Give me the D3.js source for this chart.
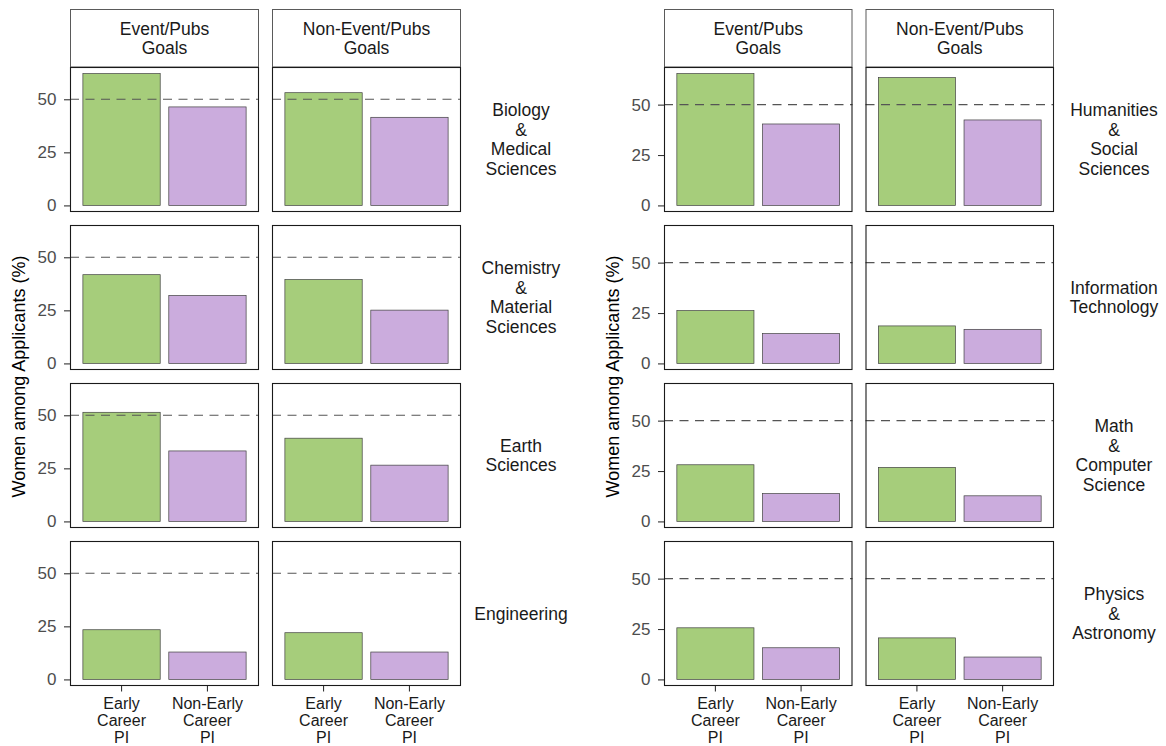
<!DOCTYPE html>
<html>
<head>
<meta charset="utf-8">
<script src="https://cdn.jsdelivr.net/npm/d3@7"></script>
<style>
  html, body { margin: 0; padding: 0; background: #fff; }
  svg { display: block; font-family: "Liberation Sans", Arial, Helvetica, sans-serif; }
</style>
</head>
<body>
<svg id="chart" width="1166" height="746"></svg>
<script>
// Share of women among applicants (%), by research field, goal type and PI career stage
const goals = [["Event/Pubs", "Goals"], ["Non-Event/Pubs", "Goals"]];
const careers = ["Early Career PI", "Non-Early Career PI"];
const careerLines = [["Early", "Career", "PI"], ["Non-Early", "Career", "PI"]];
const fieldLabels = [
  ["Biology", "&", "Medical", "Sciences"],
  ["Chemistry", "&", "Material", "Sciences"],
  ["Earth", "Sciences"],
  ["Engineering"],
  ["Humanities", "&", "Social", "Sciences"],
  ["Information", "Technology"],
  ["Math", "&", "Computer", "Science"],
  ["Physics", "&", "Astronomy"]
];
// values per field (same order as fieldLabels)
const eventEarly       = [62.1, 41.8, 51.4, 23.4, 65.4, 26.2, 28.1, 25.6];
const eventNonEarly    = [46.4, 32.0, 33.2, 12.9, 40.4, 14.8, 13.8, 15.7];
const nonEventEarly    = [53.1, 39.5, 39.2, 22.0, 63.4, 18.6, 26.8, 20.6];
const nonEventNonEarly = [41.5, 25.1, 26.5, 12.9, 42.4, 16.9, 12.7, 11.1];
const yTicks = [0, 25, 50];
const parityLine = 50;
const yTitle = "Women among Applicants (%)";

const svg = d3.select("#chart");
const green = "#a6cd7b", purple = "#cbacdd";

// two facet grids, four fields each
const charts = [
  { left: 70,  panelW: 189,   fields: [0, 1, 2, 3] },
  { left: 664, panelW: 188.5, fields: [4, 5, 6, 7] }
];
const stripTop = 9.5, stripH = 57.5, rowTop = 67, panelH = 145, gap = 13;

charts.forEach(chart => {
  const vals = chart.fields.map(f => [
    [eventEarly[f], eventNonEarly[f]],
    [nonEventEarly[f], nonEventNonEarly[f]]
  ]);
  const maxV = d3.max([parityLine, ...vals.flat(2)]);
  const pad = maxV * 0.05;
  const y = d3.scaleLinear().domain([-pad, maxV + pad]).range([panelH, 0]);
  const x = d3.scaleBand().domain(careers).range([0, chart.panelW])
    .paddingInner(0.1).paddingOuter(0.15);
  const colX = [chart.left, chart.left + chart.panelW + gap];
  const g = svg.append("g");

  // column strips
  goals.forEach((lines, c) => {
    g.append("rect")
      .attr("x", colX[c] + 0.5).attr("y", stripTop)
      .attr("width", chart.panelW - 1).attr("height", stripH)
      .attr("fill", "#fff").attr("stroke", "#5a5a5a").attr("stroke-width", 1);
    const t = g.append("text")
      .attr("x", colX[c] + chart.panelW / 2)
      .attr("text-anchor", "middle")
      .attr("font-size", 17.5).attr("fill", "#1a1a1a");
    lines.forEach((ln, i) => {
      t.append("tspan").attr("x", colX[c] + chart.panelW / 2)
        .attr("y", stripTop + stripH / 2 + (i - (lines.length - 1) / 2) * 19.5 + 6)
        .text(ln);
    });
  });

  vals.forEach((rowVals, r) => {
    const top = rowTop + r * (panelH + gap);
    rowVals.forEach((pair, c) => {
      const p = g.append("g").attr("transform", `translate(${colX[c]},${top})`);
      p.selectAll("rect.bar").data(careers).enter().append("rect")
        .attr("class", "bar")
        .attr("x", d => x(d)).attr("width", x.bandwidth())
        .attr("y", (d, i) => y(pair[i]))
        .attr("height", (d, i) => y(0) - y(pair[i]))
        .attr("fill", (d, i) => i === 0 ? green : purple)
        .attr("stroke", "#404040").attr("stroke-width", 0.7);
      // parity reference line, drawn over the bars
      p.append("line")
        .attr("x1", 0).attr("x2", chart.panelW)
        .attr("y1", y(parityLine)).attr("y2", y(parityLine))
        .attr("stroke", "#555").attr("stroke-width", 1.1)
        .attr("stroke-dasharray", "9,6.5");
      p.append("rect")
        .attr("x", 0.5).attr("y", 0.5)
        .attr("width", chart.panelW - 1).attr("height", panelH - 1)
        .attr("fill", "none").attr("stroke", "#1a1a1a").attr("stroke-width", 1.1);

      // y axis on the first column
      if (c === 0) {
        const ax = p.append("g").call(d3.axisLeft(y).tickValues(yTicks).tickSize(6).tickPadding(7.5));
        ax.select(".domain").remove();
        ax.selectAll(".tick line").attr("stroke", "#333").attr("stroke-width", 1.1);
        ax.selectAll(".tick text").attr("font-size", 17).attr("fill", "#4d4d4d")
          .attr("font-family", "Liberation Sans, Arial, sans-serif");
      }
      // x axis on the bottom row
      if (r === vals.length - 1) {
        const ax = p.append("g").attr("transform", `translate(0,${panelH})`)
          .call(d3.axisBottom(x).tickSize(5.5).tickFormat(""));
        ax.select(".domain").remove();
        ax.selectAll(".tick line").attr("stroke", "#333").attr("stroke-width", 1.1);
        careers.forEach((cat, i) => {
          const t = p.append("text").attr("text-anchor", "middle")
            .attr("font-size", 16).attr("fill", "#1a1a1a");
          careerLines[i].forEach((ln, k) => {
            t.append("tspan").attr("x", x(cat) + x.bandwidth() / 2)
              .attr("y", panelH + 23 + k * 17).text(ln);
          });
        });
      }
    });

    // row strip text (field name)
    const lines = fieldLabels[chart.fields[r]];
    const cx = colX[1] + chart.panelW + 60;
    const t = g.append("text").attr("text-anchor", "middle")
      .attr("font-size", 17.5).attr("fill", "#1a1a1a");
    lines.forEach((ln, i) => {
      t.append("tspan").attr("x", cx)
        .attr("y", top + panelH / 2 + (i - (lines.length - 1) / 2) * 19.5 + 6)
        .text(ln);
    });
  });

  // y axis title
  const midY = rowTop + (4 * panelH + 3 * gap) / 2;
  g.append("text")
    .attr("transform", `translate(${chart.left - 51},${midY}) rotate(-90)`)
    .attr("text-anchor", "middle").attr("dy", "0.35em")
    .attr("font-size", 18).attr("fill", "#000")
    .text(yTitle);
});
</script>
</body>
</html>
